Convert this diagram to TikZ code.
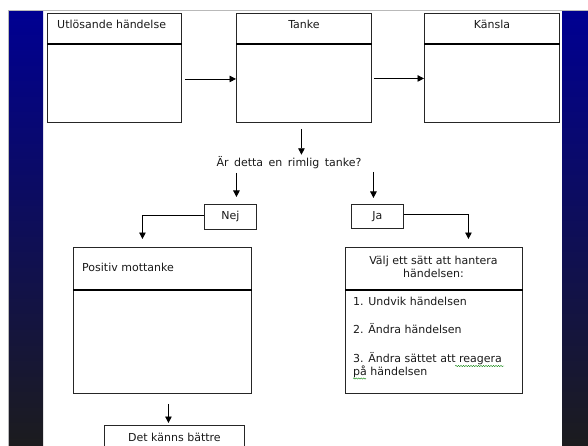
\documentclass[tikz,border=0pt]{standalone}
\usepackage{fontspec}
\setmainfont{DejaVu Sans}
\usetikzlibrary{arrows.meta,calc,decorations.pathmorphing}
\definecolor{stripTop}{RGB}{0,0,146}
\definecolor{stripMid}{RGB}{16,16,96}
\definecolor{stripBot}{RGB}{28,28,30}
\definecolor{inkc}{RGB}{26,26,26}
\tikzset{
  box/.style={draw=black!85, line width=0.9pt, fill=white, inner sep=0pt, anchor=north west},
  divline/.style={line width=2pt, black},
  lbl/.style={inner sep=0pt, text=inkc},
  arr/.style={-{Triangle[length=6.5pt,width=6.5pt]}, line width=0.8pt, black},
  wavy/.style={green!50!black, line width=0.4pt, decorate, decoration={snake, amplitude=0.6pt, segment length=2.5pt}}
}
\begin{document}
\begin{tikzpicture}[x=1pt,y=-1pt,font=\fontsize{11}{13}\selectfont]
\useasboundingbox (0,0) rectangle (588,446);
\fill[white] (0,0) rectangle (588,446);
% side strips
\shade[top color=stripTop, middle color=stripMid, bottom color=stripBot] (8,11) rectangle (43,446);
\shade[top color=stripTop, middle color=stripMid, bottom color=stripBot] (562,11) rectangle (588,446);
\draw[gray!55, line width=0.8pt] (8,10.5) -- (588,10.5);
\draw[gray!55, line width=0.8pt] (8,10.5) -- (8,446);

% top row boxes
\node[box, minimum width=134pt, minimum height=109pt] (b1) at (47,13) {};
\node[box, minimum width=135pt, minimum height=109pt] (b2) at (236,13) {};
\node[box, minimum width=135pt, minimum height=109pt] (b3) at (424,13) {};
\foreach \b in {b1,b2,b3}{
  \draw[divline] ($(\b.north west)+(0,31)$) -- ($(\b.north east)+(0,31)$);
}
\node[lbl, anchor=base west] (t1) at (57,29) {Utlösande händelse};
\node[lbl, anchor=base] (t2) at ($(b2.north)+(0,16)$) {Tanke};
\node[lbl, anchor=base] (t3) at ($(b3.north)+(0,16)$) {Känsla};

\draw[arr] ($(b1.east)+(3,11)$) -- ($(b2.west)+(0,11)$);
\draw[arr] ($(b2.east)+(2,10.5)$) -- ($(b3.west)+(0,10.5)$);

% question
\node[lbl, anchor=base] (q) at (289,167) {\spaceskip=5.5pt Är detta en rimlig tanke?};
\draw[arr] ($(b2.south)+(-2.5,6)$) coordinate (s1) -- ($(s1 |- q.north)+(0,-2)$);

% Nej / Ja
\node[box, minimum width=52pt, minimum height=25pt, text=inkc] (nej) at (204,204) {Nej};
\node[box, minimum width=52pt, minimum height=24pt, text=inkc] (ja) at (351,204) {Ja};
\draw[arr] ($(nej.north)+(6,-31)$) -- ($(nej.north)+(6,-7)$);
\draw[arr] ($(ja.north)+(-4,-32)$) -- ($(ja.north)+(-4,-6)$);

% lower boxes
\node[box, minimum width=178pt, minimum height=146pt] (pm) at (73,247) {};
\node[box, minimum width=177pt, minimum height=146pt] (vb) at (345,247) {};
\foreach \b in {pm,vb}{
  \draw[divline] ($(\b.north west)+(0,43)$) -- ($(\b.north east)+(0,43)$);
}
\draw[arr] ($(nej.west)+(0,-1.5)$) -| ($(pm.north)+(-20,-8)$);
\draw[arr] ($(ja.east)+(0,-2)$) -| ($(vb.north)+(34.5,-8)$);

\node[lbl, anchor=base west] (pmt) at (82,271) {Positiv mottanke};
\node[lbl, anchor=base] (vt1) at (433.5,264) {Välj ett sätt att hantera};
\node[lbl, anchor=base] (vt2) at (433.5,277) {händelsen:};
\node[lbl, anchor=base west] (l1) at (353,305) {1. Undvik händelsen};
\node[lbl, anchor=base west] (l2) at (353,333) {2. Ändra händelsen};
\node[lbl, anchor=base west] (l3) at (353,362) {3. Ändra sättet att reagera};
\node[lbl, anchor=base west] (l4) at (353,375) {på händelsen};
\draw[wavy] ($(l3.base east)+(-47,4)$) -- ($(l3.base east)+(2,4)$);
\draw[wavy] ($(l4.base west)+(0,3.5)$) -- ($(l4.base west)+(13,3.5)$);

% bottom
\node[box, minimum width=140pt, minimum height=24pt, text=inkc] (dk) at (104,425) {Det känns bättre};
\draw[arr] ($(pm.south)+(6,10)$) -- ($(dk.north)+(-6,-2)$);
\end{tikzpicture}
\end{document}
